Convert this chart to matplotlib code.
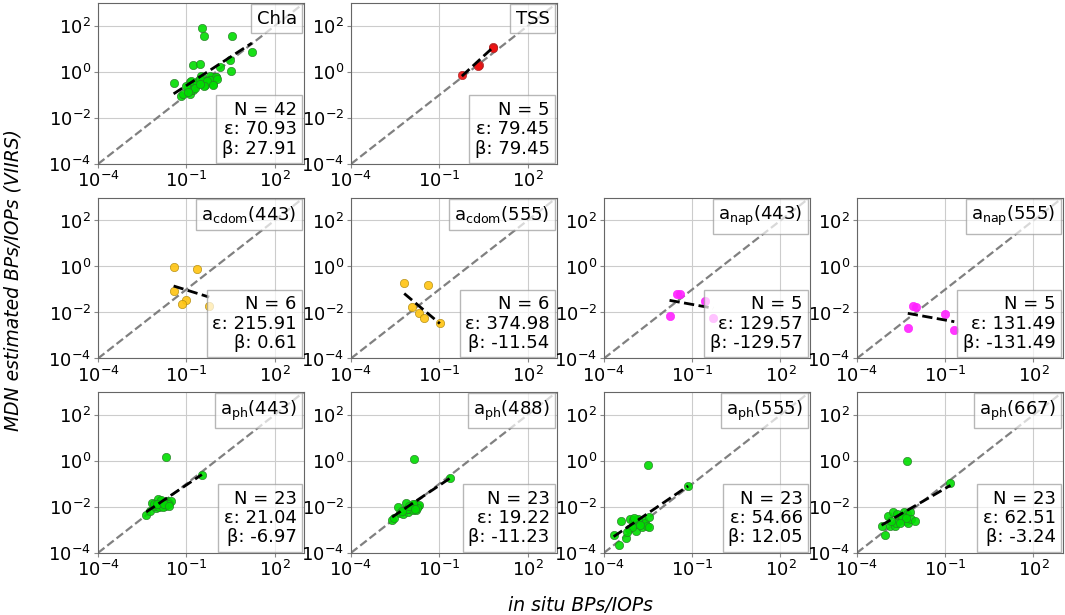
import numpy as np
import matplotlib
matplotlib.use("Agg")
import matplotlib.pyplot as plt

# values are log10 of the quantity
chla_x = [-0.47, -0.39, 0.55, 1.23, -1.43, -0.77, -0.55, 0.51, 0.48, -1.17,
          -0.86, -0.89, -0.72, -0.77, -0.60, -0.49, -0.43, -0.35, -0.26, -0.15,
          -0.12, 0.02, 0.13, -1.11, -0.94, -0.66, -0.21, 0.00, -0.83, -0.09,
          -0.63, -0.83, -0.55, -0.20, -0.30, -0.70, -1.00, -0.40, 0.05, -0.52,
          -0.95, -0.10]
chla_y = [1.90, 1.55, 1.58, 0.89, -0.46, 0.30, 0.36, 0.03, 0.53, -1.02,
          -0.95, -0.45, -0.59, -0.78, -0.37, -0.17, -0.45, -0.55, -0.35, -0.45,
          -0.20, -0.23, 0.20, -0.95, -0.63, -0.49, -0.16, -0.20, -0.37, -0.50,
          -0.49, -0.76, -0.30, -0.35, -0.40, -0.70, -0.60, -0.62, -0.30, -0.50,
          -0.85, -0.55]

tss_x = [-0.23, 0.34, 0.84, 0.32, 0.82]
tss_y = [-0.14, 0.29, 1.09, 0.28, 1.06]

acdom443_x = [-1.40, -0.63, -1.43, -1.00, -1.16, -0.22]
acdom443_y = [-0.04, -0.10, -1.08, -1.45, -1.61, -1.70]

acdom555_x = [-2.19, -1.38, -1.93, -1.68, -1.52, -0.98]
acdom555_y = [-0.73, -0.79, -1.77, -2.03, -2.26, -2.45]

anap443_x = [-1.51, -1.41, -0.55, -1.77, -0.29]
anap443_y = [-1.21, -1.21, -1.50, -2.17, -2.26]

anap555_x = [-2.09, -2.00, -1.00, -2.27, -0.69]
anap555_y = [-1.74, -1.78, -2.07, -2.66, -2.78]

aph443_x = [-1.68, -0.47, -2.36, -2.24, -2.15, -2.02, -1.96, -1.88, -1.81, -1.73,
            -1.68, -1.66, -1.57, -1.51, -2.07, -1.93, -1.79, -1.62, -1.85, -2.11,
            -1.99, -1.77, -1.59]
aph443_y = [0.19, -0.63, -2.35, -2.19, -1.83, -2.06, -1.65, -1.88, -1.78, -1.97,
            -1.93, -1.74, -1.83, -1.74, -1.97, -2.00, -2.00, -1.86, -1.71, -1.88,
            -1.86, -1.86, -1.94]

aph488_x = [-1.87, -0.62, -2.60, -2.54, -2.39, -2.33, -2.22, -2.16, -2.13, -2.05,
            -1.99, -1.94, -1.88, -1.83, -1.79, -1.73, -1.68, -1.76, -1.90, -2.09,
            -2.25, -2.02, -1.83]
aph488_y = [0.09, -0.73, -2.58, -2.50, -2.00, -2.26, -2.32, -2.14, -1.83, -2.22,
            -2.07, -1.97, -2.14, -1.88, -2.14, -1.97, -1.93, -2.03, -1.88, -2.07,
            -2.17, -1.97, -2.09]

aph555_x = [-2.51, -1.14, -3.67, -3.50, -3.43, -3.26, -3.14, -3.10, -3.00, -2.91,
            -2.89, -2.80, -2.72, -2.68, -2.60, -2.52, -2.48, -2.47, -2.83, -3.03,
            -3.21, -2.98, -2.77]
aph555_y = [-0.19, -1.09, -3.21, -3.64, -2.63, -3.36, -2.98, -2.51, -2.58, -3.05,
            -2.73, -2.66, -2.88, -2.58, -2.70, -2.85, -2.44, -2.88, -2.51, -2.88,
            -3.10, -2.47, -2.77]

aph667_x = [-2.30, -0.82, -3.16, -3.04, -2.95, -2.87, -2.78, -2.71, -2.63, -2.57,
            -2.48, -2.40, -2.34, -2.28, -2.25, -2.20, -2.16, -2.01, -2.67, -2.83,
            -2.46, -2.32, -2.52]
aph667_y = [-0.01, -0.97, -2.84, -3.21, -2.40, -2.84, -2.22, -2.81, -2.32, -2.62,
            -2.54, -2.22, -2.62, -2.32, -2.69, -2.22, -2.54, -2.62, -2.69, -2.62,
            -2.40, -2.47, -2.72]

# fit lines in log space (slope, intercept)
fit_slope = [0.83, 1.18, -0.40, -1.08, -0.23, -0.23, 0.86, 0.86, 0.87, 0.74]
fit_intercept = [0.24, 0.095, -1.42, -3.54, -1.88, -2.56, -0.19, -0.207, -0.10, -0.457]

labels = ["Chla", "TSS",
          r"a$_{\mathrm{cdom}}$(443)", r"a$_{\mathrm{cdom}}$(555)",
          r"a$_{\mathrm{nap}}$(443)", r"a$_{\mathrm{nap}}$(555)",
          r"a$_{\mathrm{ph}}$(443)", r"a$_{\mathrm{ph}}$(488)",
          r"a$_{\mathrm{ph}}$(555)", r"a$_{\mathrm{ph}}$(667)"]
n_values = [42, 5, 6, 6, 5, 5, 23, 23, 23, 23]
eps_values = ["70.93", "79.45", "215.91", "374.98", "129.57", "131.49",
              "21.04", "19.22", "54.66", "62.51"]
beta_values = ["27.91", "79.45", "0.61", "-11.54", "-129.57", "-131.49",
               "-6.97", "-11.23", "12.05", "-3.24"]

xs = [chla_x, tss_x, acdom443_x, acdom555_x, anap443_x, anap555_x,
      aph443_x, aph488_x, aph555_x, aph667_x]
ys = [chla_y, tss_y, acdom443_y, acdom555_y, anap443_y, anap555_y,
      aph443_y, aph488_y, aph555_y, aph667_y]

colors = ["#00dd00", "#ee1111", "#ffc410", "#ffc410", "#ff22ff", "#ff22ff",
          "#00dd00", "#00dd00", "#00dd00", "#00dd00"]
edges = ["#2b7a2b", "#aa2222", "#b08a10", "#b08a10", "#ff22ff", "#ff22ff",
         "#2b7a2b", "#2b7a2b", "#2b7a2b", "#2b7a2b"]

# grid slots: top row has only two panels
slots = [(0, 0), (0, 1), (1, 0), (1, 1), (1, 2), (1, 3),
         (2, 0), (2, 1), (2, 2), (2, 3)]

plt.rcParams["font.family"] = ["DejaVu Sans"]
plt.rcParams["mathtext.fontset"] = "dejavusans"

fig, axes = plt.subplots(3, 4, figsize=(10.65, 6.15), dpi=100)
fig.subplots_adjust(left=0.092, right=0.998, bottom=0.101, top=0.995,
                    wspace=0.228, hspace=0.208)

axes[0, 2].axis("off")
axes[0, 3].axis("off")

lo, hi = 1e-4, 1e3
for i, (r, c) in enumerate(slots):
    ax = axes[r, c]
    x = 10 ** np.array(xs[i])
    y = 10 ** np.array(ys[i])
    ax.set_xscale("log")
    ax.set_yscale("log")
    ax.set_xlim(lo, hi)
    ax.set_ylim(lo, hi)
    ax.grid(True, color="#cccccc", lw=0.8, zorder=0)
    ax.set_axisbelow(True)
    ax.plot([lo, hi], [lo, hi], ls="--", color="gray", lw=1.6, zorder=1)
    ax.scatter(x, y, s=36, c=colors[i], edgecolors=edges[i], linewidths=0.5,
               alpha=0.9, zorder=3)

    # fit line across the range of the data
    xl = np.array([min(xs[i]), max(xs[i])])
    yl = fit_slope[i] * xl + fit_intercept[i]
    ax.plot(10 ** xl, 10 ** yl, ls="--", color="black", lw=2, zorder=4)

    ax.set_xticks([1e-4, 1e-1, 1e2])
    ax.set_yticks([1e-4, 1e-2, 1e0, 1e2])
    ax.minorticks_off()
    ax.tick_params(labelsize=13, color="#888888", length=3, pad=2)
    for sp in ax.spines.values():
        sp.set_color("#666666")

    box = dict(boxstyle="square,pad=0.3", facecolor="white", edgecolor="#999999",
               alpha=0.7)
    ax.text(0.965, 0.96, labels[i], transform=ax.transAxes, ha="right", va="top",
            fontsize=13, bbox=box, zorder=5)
    stats = f"N = {n_values[i]}\nε: {eps_values[i]}\nβ: {beta_values[i]}"
    ax.text(0.965, 0.04, stats, transform=ax.transAxes, ha="right", va="bottom",
            fontsize=13, bbox=box, zorder=5, linespacing=1.1)

fig.text(0.545, 0.016, "in situ BPs/IOPs", ha="center", va="center",
         fontsize=13.5, style="italic")
fig.text(0.012, 0.545, "MDN estimated BPs/IOPs (VIIRS)", ha="center", va="center",
         rotation=90, fontsize=13.5, style="italic")

fig.savefig("out.png", dpi=100)
